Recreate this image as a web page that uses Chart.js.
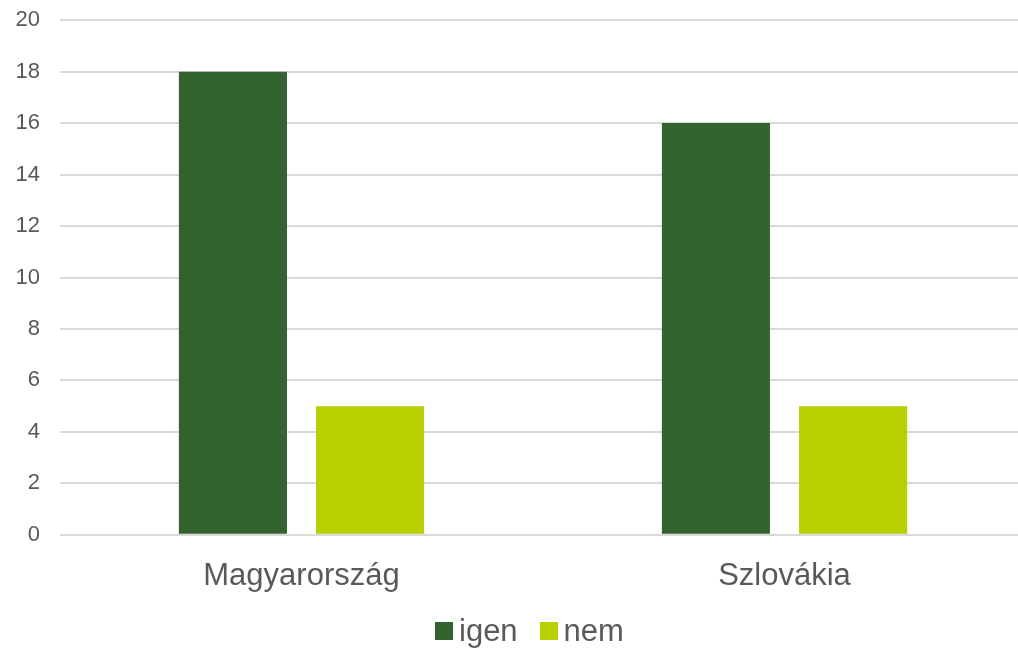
<!DOCTYPE html>
<html>
<head>
<meta charset="utf-8">
<script src="https://cdn.jsdelivr.net/npm/chart.js@4/dist/chart.umd.min.js"></script>
<style>
  html, body { margin: 0; padding: 0; background: #fff; overflow: hidden; }
  #keret { width: 1026px; height: 650px; position: relative; overflow: hidden; }
  #wrap { position: absolute; left: 0; top: -13px; width: 1026px; height: 663px; }
  #jelmagyarazat {
    position: absolute; left: 435px; top: 613px; height: 36px;
    display: flex; align-items: center;
    font-family: "Liberation Sans", Arial, sans-serif; font-size: 31px; color: #595959;
  }
  #jelmagyarazat .elem { display: flex; align-items: center; margin-right: 22px; }
  #jelmagyarazat .doboz { width: 18px; height: 18px; margin-right: 6px; }
</style>
</head>
<body>
<div id="keret">
  <div id="wrap"><canvas id="grafico"></canvas></div>
  <div id="jelmagyarazat"></div>
</div>
<script>
const orszagok = ["Magyarország", "Szlovákia"];
const igen = [18, 16];
const nem = [5, 5];
const yTicks = [0, 2, 4, 6, 8, 10, 12, 14, 16, 18, 20];

const szovegSzin = "#595959";

const grafico = new Chart(document.getElementById("grafico"), {
  type: "bar",
  data: {
    labels: orszagok,
    datasets: [
      { label: "igen", data: igen, backgroundColor: "#33632e" },
      { label: "nem", data: nem, backgroundColor: "#b8cf00" }
    ]
  },
  options: {
    responsive: true,
    maintainAspectRatio: false,
    animation: false,
    categoryPercentage: 0.568,
    barPercentage: 0.788,
    layout: { padding: { top: 0, left: 0, right: 0, bottom: 40 } },
    plugins: {
      tooltip: { enabled: false },
      legend: { display: false }
    },
    scales: {
      x: {
        grid: { display: false },
        border: { display: false },
        ticks: {
          color: szovegSzin,
          font: { family: "Liberation Sans", size: 31 },
          padding: 15
        }
      },
      y: {
        min: 0,
        max: 20,
        afterBuildTicks: axis => { axis.ticks = yTicks.map(v => ({ value: v })); },
        afterFit: axis => { axis.width = 60; },
        grid: { color: "#d9d9d9", lineWidth: 2, drawTicks: false },
        border: { display: false },
        ticks: {
          color: szovegSzin,
          font: { family: "Liberation Sans", size: 22 },
          padding: 20
        }
      }
    }
  }
});

// jelmagyarázat a datasetekből
document.getElementById("jelmagyarazat").innerHTML = grafico.data.datasets.map(ds =>
  `<span class="elem"><span class="doboz" style="background:${ds.backgroundColor}"></span>${ds.label}</span>`
).join("");
</script>
</body>
</html>
